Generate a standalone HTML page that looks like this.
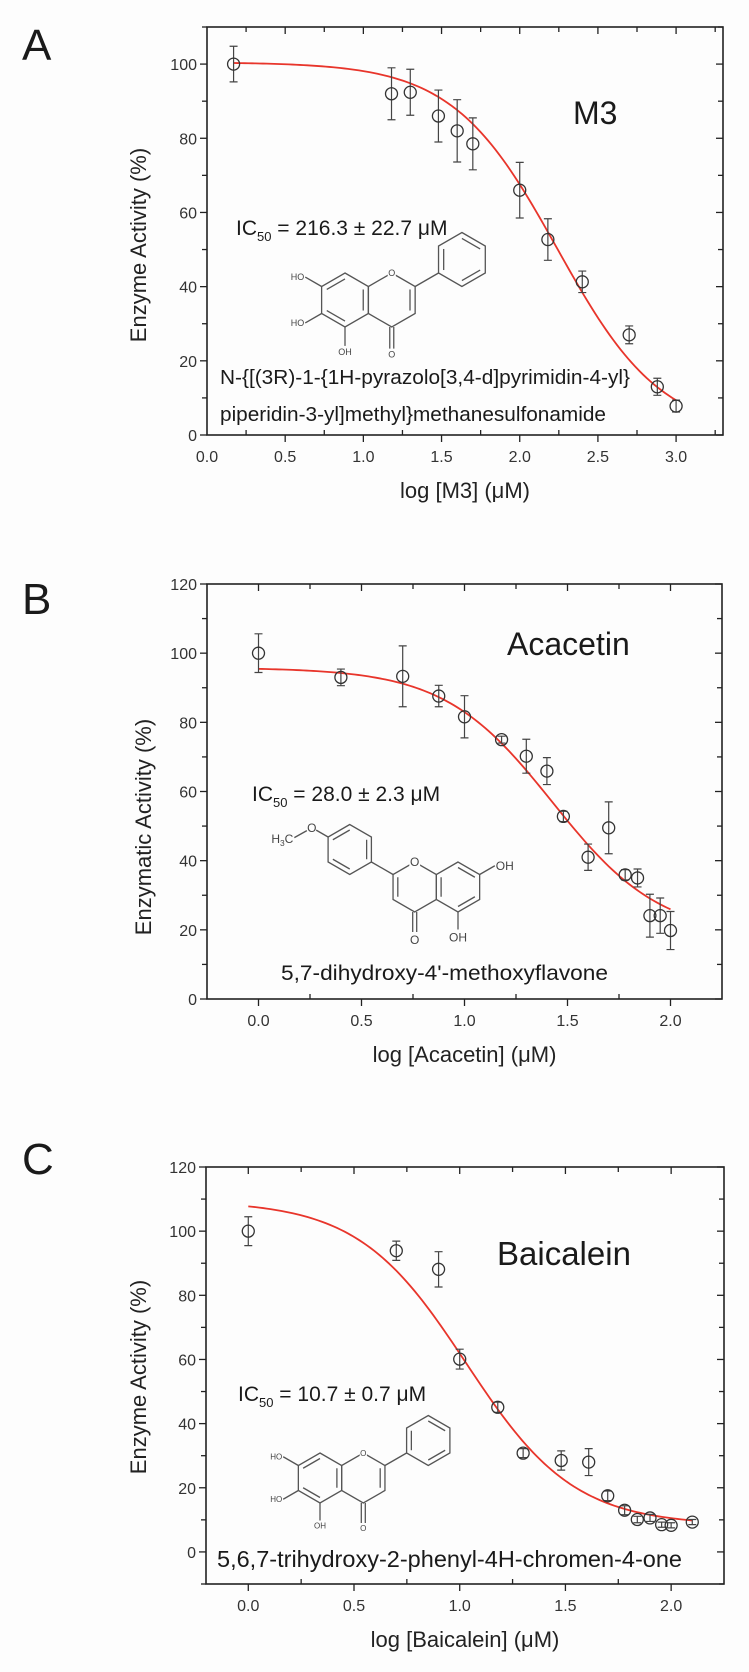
<!DOCTYPE html>
<html><head><meta charset="utf-8"><style>
body{margin:0;background:#fdfdfd;}
svg{display:block;font-family:"Liberation Sans",sans-serif;}
</style></head><body>
<svg id="fig" width="749" height="1672" viewBox="0 0 749 1672" xmlns="http://www.w3.org/2000/svg">
<rect x="0" y="0" width="749" height="1672" fill="#fdfdfd"/>
</svg>
<script>
// ---- Panel A data (M3) ----
const aX = [0.17, 1.18, 1.30, 1.48, 1.60, 1.70, 2.00, 2.18, 2.40, 2.70, 2.88, 3.00];
const aY = [100, 92, 92.4, 86, 82, 78.5, 66, 52.7, 41.3, 27, 13, 7.8];
const aErr = [4.8, 7, 6.2, 7, 8.4, 7, 7.5, 5.6, 2.9, 2.4, 2.3, 1.6];
const aFit = [100.5, 0, 2.24, 1.3]; // top, bottom, logIC50, hill
const aXTicks = [0.0, 0.5, 1.0, 1.5, 2.0, 2.5, 3.0];
const aXTickLabels = ["0.0", "0.5", "1.0", "1.5", "2.0", "2.5", "3.0"];
const aYTicks = [0, 20, 40, 60, 80, 100];
const aYTickLabels = ["0", "20", "40", "60", "80", "100"];

// ---- Panel B data (Acacetin) ----
const bX = [0.0, 0.40, 0.70, 0.875, 1.0, 1.18, 1.30, 1.40, 1.48, 1.60, 1.70, 1.78, 1.84, 1.90, 1.95, 2.0];
const bY = [100, 93, 93.3, 87.6, 81.6, 75, 70.2, 65.9, 52.8, 41, 49.5, 35.9, 35, 24.1, 24.1, 19.8];
const bErr = [5.6, 2.4, 8.8, 3.1, 6.1, 1, 4.9, 3.9, 1.5, 3.8, 7.5, 1.5, 2.6, 6.2, 5.1, 5.5];
const bFit = [95.8, 18, 1.427, 1.65];
const bXTicks = [0.0, 0.5, 1.0, 1.5, 2.0];
const bXTickLabels = ["0.0", "0.5", "1.0", "1.5", "2.0"];
const bYTicks = [0, 20, 40, 60, 80, 100, 120];
const bYTickLabels = ["0", "20", "40", "60", "80", "100", "120"];

// ---- Panel C data (Baicalein) ----
const cX = [0.0, 0.70, 0.90, 1.0, 1.18, 1.30, 1.48, 1.61, 1.70, 1.78, 1.84, 1.90, 1.955, 2.0, 2.10];
const cY = [100, 93.9, 88.1, 60.1, 45.1, 30.8, 28.5, 28, 17.5, 13, 10.1, 10.6, 8.5, 8.3, 9.3];
const cErr = [4.5, 3, 5.5, 3.1, 1.6, 1.4, 3, 4.2, 1.5, 1.4, 1, 1.1, 0.8, 0.8, 0.8];
const cFit = [109.5, 8.3, 1.03, 1.7];
const cXTicks = [0.0, 0.5, 1.0, 1.5, 2.0];
const cXTickLabels = ["0.0", "0.5", "1.0", "1.5", "2.0"];
const cYTicks = [0, 20, 40, 60, 80, 100, 120];
const cYTickLabels = ["0", "20", "40", "60", "80", "100", "120"];

const NS = "http://www.w3.org/2000/svg";
const svg = document.getElementById("fig");
function mk(tag, attrs, parent) {
  const e = document.createElementNS(NS, tag);
  for (const k in attrs) e.setAttribute(k, attrs[k]);
  (parent || svg).appendChild(e);
  return e;
}

function panel(cfg) {
  const g = mk("g", {});
  
  
  const sx = v => cfg.L + (v - cfg.x0) / (cfg.x1 - cfg.x0) * (cfg.R - cfg.L);
  const sy = v => cfg.B - (v - cfg.y0) / (cfg.y1 - cfg.y0) * (cfg.B - cfg.T);
  const fr = mk("rect", {x: cfg.L, y: cfg.T, width: cfg.R - cfg.L, height: cfg.B - cfg.T, fill: "none", stroke: "#222", "stroke-width": 1.6}, g);
  
  
  // x ticks
  for (let i = Math.ceil(cfg.x0 * 4); i <= Math.floor(cfg.x1 * 4); i++) {
    const vv = i / 4;
    const major = i % 2 === 0;
    const x = sx(vv);
    if (x < cfg.L + 1 || x > cfg.R - 1) continue;
    if (major) mk("line", {x1: x, x2: x, y1: cfg.B, y2: cfg.B + 7, stroke: "#222", "stroke-width": 1.3}, g);
    else mk("line", {x1: x, x2: x, y1: cfg.B, y2: cfg.B - 5, stroke: "#222", "stroke-width": 1.3}, g);
    mk("line", {x1: x, x2: x, y1: cfg.T, y2: cfg.T + (major ? 7 : 5), stroke: "#222", "stroke-width": 1.3}, g);
  }
  cfg.xt.forEach((v, i) => {
    const t = mk("text", {x: sx(v), y: cfg.B + 27, "text-anchor": "middle", "font-size": 16, fill: "#333"}, g);
    t.textContent = cfg.xtl[i];
    
    
  });
  // y ticks
  for (let v = Math.ceil(cfg.y0 / 10) * 10; v <= cfg.y1; v += 10) {
    const y = sy(v);
    const major = v % 20 === 0;
    const len = major ? 7 : 5;
    mk("line", {x1: cfg.L - len, x2: cfg.L, y1: y, y2: y, stroke: "#222", "stroke-width": 1.3}, g);
    mk("line", {x1: cfg.R - len, x2: cfg.R, y1: y, y2: y, stroke: "#222", "stroke-width": 1.3}, g);
  }
  cfg.yt.forEach((v, i) => {
    const t = mk("text", {x: cfg.L - 10, y: sy(v) + 6, "text-anchor": "end", "font-size": 16, fill: "#333"}, g);
    t.textContent = cfg.ytl[i];
    
    
  });
  const xt = mk("text", {x: (cfg.L + cfg.R) / 2 + 0, y: cfg.B + 63, "text-anchor": "middle", "font-size": 22, fill: "#222"}, g);
  xt.textContent = cfg.xTitle;
  
  
  const yt = mk("text", {x: 0, y: 0, "text-anchor": "middle", "font-size": 22, fill: "#222", transform: `translate(${cfg.ytx},${cfg.yty}) rotate(-90)`}, g);
  yt.textContent = cfg.yTitle;
  
  
  const f = cfg.fit;
  let d = "";
  for (let i = 0; i <= 120; i++) {
    const x = cfg.cx0 + (cfg.cx1 - cfg.cx0) * i / 120;
    const y = f[1] + (f[0] - f[1]) / (1 + Math.pow(10, (x - f[2]) * f[3]));
    d += (i ? "L" : "M") + sx(x).toFixed(2) + "," + sy(y).toFixed(2);
  }
  const cv = mk("path", {d: d, fill: "none", stroke: "#e8352b", "stroke-width": 1.8}, g);
  
  
  cfg.xs.forEach((xv, i) => {
    const px = sx(xv), py = sy(cfg.ys[i]);
    const lo = sy(cfg.ys[i] - cfg.es[i]), hi = sy(cfg.ys[i] + cfg.es[i]);
    const eb = mk("path", {d: `M${px},${lo}V${hi}M${px - 4},${lo}H${px + 4}M${px - 4},${hi}H${px + 4}`, stroke: "#444", "stroke-width": 1.2, fill: "none"}, g);
    
    
    const c = mk("circle", {cx: px, cy: py, r: 6, fill: "none", stroke: "#333", "stroke-width": 1.3}, g);
    
    
  });
  return g;
}

panel({name: "panel-a-m3", L: 207, R: 723, T: 27, B: 435, x0: 0, x1: 3.3, y0: 0, y1: 110,
  xt: aXTicks, xtl: aXTickLabels, yt: aYTicks, ytl: aYTickLabels,
  xTitle: "log [M3] (\u03BCM)", yTitle: "Enzyme Activity (%)", ytx: 146, yty: 245,
  fit: aFit, cx0: 0.17, cx1: 3.0, xs: aX, ys: aY, es: aErr});
panel({name: "panel-b-acacetin", L: 207, R: 722, T: 584, B: 999, x0: -0.25, x1: 2.25, y0: 0, y1: 120,
  xt: bXTicks, xtl: bXTickLabels, yt: bYTicks, ytl: bYTickLabels,
  xTitle: "log [Acacetin] (\u03BCM)", yTitle: "Enzymatic Activity (%)", ytx: 151, yty: 827,
  fit: bFit, cx0: 0, cx1: 2.0, xs: bX, ys: bY, es: bErr});
panel({name: "panel-c-baicalein", L: 206, R: 724, T: 1167, B: 1584, x0: -0.2, x1: 2.25, y0: -10, y1: 120,
  xt: cXTicks, xtl: cXTickLabels, yt: cYTicks, ytl: cYTickLabels,
  xTitle: "log [Baicalein] (\u03BCM)", yTitle: "Enzyme Activity (%)", ytx: 146, yty: 1377,
  fit: cFit, cx0: 0, cx1: 2.1, xs: cX, ys: cY, es: cErr});

function txt(x, y, s, size, name, extra) {
  const t = mk("text", Object.assign({x: x, y: y, "font-size": size, fill: "#1a1a1a"}, extra || {}));
  t.textContent = s;
  
  
  return t;
}
txt(22, 60, "A", 44, "panel-letter-a");
txt(22, 614, "B", 44, "panel-letter-b");
txt(22, 1174, "C", 44, "panel-letter-c");
txt(573, 124, "M3", 32, "compound-label-m3");
txt(507, 655, "Acacetin", 32, "compound-label-acacetin");
txt(497, 1265, "Baicalein", 33, "compound-label-baicalein");
function ic(x, y, val, name) {
  const t = mk("text", {x: x, y: y, "font-size": 21, fill: "#1a1a1a"});
  
  
  const a = mk("tspan", {}, t); a.textContent = "IC";
  const b = mk("tspan", {dy: 6, "font-size": 13}, t); b.textContent = "50";
  const c = mk("tspan", {dy: -6}, t); c.textContent = " = " + val;
}
ic(236, 235, "216.3 \u00B1 22.7 \u03BCM", "ic50-label-m3");
ic(252, 801, "28.0 \u00B1 2.3 \u03BCM", "ic50-label-acacetin");
ic(238, 1401, "10.7 \u00B1 0.7 \u03BCM", "ic50-label-baicalein");
txt(220, 384, "N-{[(3R)-1-{1H-pyrazolo[3,4-d]pyrimidin-4-yl}", 20, "compound-name-line1", {textLength: 410, lengthAdjust: "spacingAndGlyphs"});
txt(220, 421, "piperidin-3-yl]methyl}methanesulfonamide", 20, "compound-name-line2", {textLength: 386, lengthAdjust: "spacingAndGlyphs"});
txt(281, 980, "5,7-dihydroxy-4'-methoxyflavone", 21, "iupac-name-acacetin", {textLength: 327, lengthAdjust: "spacingAndGlyphs"});
txt(217, 1567, "5,6,7-trihydroxy-2-phenyl-4H-chromen-4-one", 23, "iupac-name-baicalein", {textLength: 465, lengthAdjust: "spacingAndGlyphs"});

function flavone(ax, ay, r, mirror, subs, fs, name, methoxy) {
  const g = mk("g", {stroke: "#555", "stroke-width": 1.3, fill: "none"});
  
  
  const s = mirror ? -1 : 1;
  const V = (cx, cy, k, rr) => { const a = (-90 + 60 * k) * Math.PI / 180; return [cx + s * (rr || r) * Math.cos(a), cy + (rr || r) * Math.sin(a)]; };
  const hex = (cx, cy) => { let d = ""; for (let k = 0; k < 6; k++) { const p = V(cx, cy, k); d += (k ? "L" : "M") + p[0] + "," + p[1]; } return d + "Z"; };
  const inner = (cx, cy, k1, k2) => { const p = V(cx, cy, k1, r * 0.78), q = V(cx, cy, k2, r * 0.78); mk("line", {x1: p[0], y1: p[1], x2: q[0], y2: q[1]}, g); };
  const cxC = ax + s * r * Math.sqrt(3);
  mk("path", {d: hex(ax, ay)}, g);
  mk("path", {d: hex(cxC, ay)}, g);
  inner(ax, ay, 5, 0); inner(ax, ay, 1, 2); inner(ax, ay, 3, 4); inner(cxC, ay, 1, 2);
  const O = V(cxC, ay, 0);
  mk("rect", {x: O[0] - fs * 0.45, y: O[1] - fs * 0.5, width: fs * 0.9, height: fs, fill: "#fdfdfd", stroke: "none"}, g);
  const ot = mk("text", {x: O[0], y: O[1] + fs * 0.35, "text-anchor": "middle", "font-size": fs, fill: "#444", stroke: "none"}, g); ot.textContent = "O";
  const C4 = V(cxC, ay, 3);
  mk("line", {x1: C4[0] - 2, y1: C4[1], x2: C4[0] - 2, y2: C4[1] + r * 0.8}, g);
  mk("line", {x1: C4[0] + 2, y1: C4[1], x2: C4[0] + 2, y2: C4[1] + r * 0.8}, g);
  const ct = mk("text", {x: C4[0], y: C4[1] + r * 0.8 + fs, "text-anchor": "middle", "font-size": fs, fill: "#444", stroke: "none"}, g); ct.textContent = "O";
  const C2 = V(cxC, ay, 1);
  const dx = s * Math.cos(-Math.PI / 6), dy = Math.sin(-Math.PI / 6);
  const P1 = [C2[0] + dx * r, C2[1] + dy * r];
  const pc = [P1[0] + dx * r, P1[1] + dy * r];
  mk("line", {x1: C2[0], y1: C2[1], x2: P1[0], y2: P1[1]}, g);
  mk("path", {d: hex(pc[0], pc[1])}, g);
  inner(pc[0], pc[1], 0, 1); inner(pc[0], pc[1], 2, 3); inner(pc[0], pc[1], 4, 5);
  if (methoxy) {
    const P4 = V(pc[0], pc[1], 1);
    const Ox = P4[0] + dx * r * 0.75, Oy = P4[1] + dy * r * 0.75;
    mk("line", {x1: P4[0], y1: P4[1], x2: Ox - dx * 5, y2: Oy - dy * 5}, g);
    const mt = mk("text", {x: Ox, y: Oy + fs * 0.35, "text-anchor": "middle", "font-size": fs, fill: "#444", stroke: "none"}, g); mt.textContent = "O";
    const hx = Ox + s * r * 0.7, hy = Oy + r * 0.4;
    mk("line", {x1: Ox + s * 5, y1: Oy + 3, x2: hx, y2: hy}, g);
    const ht = mk("text", {x: hx + s * 1, y: hy + fs * 0.45, "text-anchor": mirror ? "end" : "start", "font-size": fs, fill: "#444", stroke: "none"}, g);
    ht.innerHTML = "H<tspan font-size='" + (fs * 0.7) + "' dy='3'>3</tspan><tspan dy='-3'>C</tspan>";
  }
  subs.forEach(sb => {
    const p = V(ax, ay, sb[0]);
    const a = (-90 + 60 * sb[0]) * Math.PI / 180;
    const ex = p[0] + s * r * 0.7 * Math.cos(a), ey = p[1] + r * 0.7 * Math.sin(a);
    mk("line", {x1: p[0], y1: p[1], x2: ex, y2: ey}, g);
    const anchor = sb[0] === 3 ? "middle" : ((s * Math.cos(a) < 0) ? "end" : "start");
    const ty = sb[0] === 3 ? ey + fs : ey + fs * 0.35;
    const t = mk("text", {x: ex + (anchor === "middle" ? 0 : (anchor === "end" ? -1 : 1)), y: ty, "text-anchor": anchor, "font-size": fs, fill: "#444", stroke: "none"}, g);
    t.textContent = sb[1];
  });
}
flavone(345, 300, 27, false, [[3, "OH"], [4, "HO"], [5, "HO"]], 9, "structure-m3", false);
flavone(458, 887, 25, true, [[3, "OH"], [5, "OH"]], 12, "structure-acacetin", true);
flavone(320, 1478, 25, false, [[3, "OH"], [4, "HO"], [5, "HO"]], 8, "structure-baicalein", false);
</script>
</body></html>
